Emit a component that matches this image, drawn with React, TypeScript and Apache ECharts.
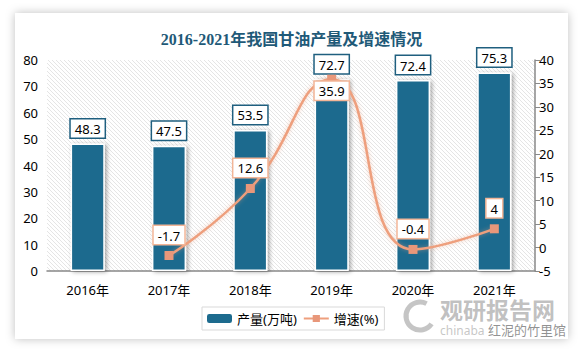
import React, { useEffect, useRef } from "react";
import * as echarts from "echarts";

const years = ["2016年", "2017年", "2018年", "2019年", "2020年", "2021年"];
const output = [48.3, 47.5, 53.5, 72.7, 72.4, 75.3];
const growth: (number | null)[] = [null, -1.7, 12.6, 35.9, -0.4, 4];
const growthLabelPos = ["top", "top", "top", "bottom", "top", "top"];
const titleText = "2016-2021年我国甘油产量及增速情况";

export default function App() {
  const ref = useRef<HTMLDivElement>(null);
  useEffect(() => {
    document.body.style.margin = "0";
    if (!ref.current) return;
    const chart = echarts.init(ref.current, undefined, { renderer: "svg" });

    const pc = document.createElement("canvas");
    pc.width = 4;
    pc.height = 4;
    const ctx = pc.getContext("2d");
    if (ctx) {
      ctx.fillStyle = "#ffffff";
      ctx.fillRect(0, 0, 4, 4);
      ctx.strokeStyle = "#dedede";
      ctx.lineWidth = 0.8;
      ctx.beginPath();
      ctx.moveTo(-1, -1);
      ctx.lineTo(5, 5);
      ctx.moveTo(-1, 3);
      ctx.lineTo(1, 5);
      ctx.moveTo(3, -1);
      ctx.lineTo(5, 1);
      ctx.stroke();
    }

    const font = "'Noto Sans', 'Noto Sans CJK SC', sans-serif";
    const barColor = "#1d6b8e";
    const lineColor = "#ee9f7d";

    chart.setOption({
      animation: false,
      backgroundColor: "#ffffff",
      textStyle: { fontFamily: font },
      title: {
        text: titleText,
        left: "center",
        top: 26,
        textStyle: {
          fontSize: 16,
          fontWeight: "bold",
          color: "#1f5a78",
          fontFamily: "'Liberation Serif', 'Noto Sans CJK SC', serif",
        },
      },
      graphic: [
        {
          type: "rect",
          z: -10,
          shape: { x: 15, y: 13, width: 553, height: 326 },
          style: {
            fill: "#ffffff",
            shadowBlur: 10,
            shadowColor: "rgba(0,0,0,0.25)",
          },
        },
        {
          type: "arc",
          z: 50,
          shape: { cx: 420, cy: 316, r: 14, startAngle: 0.6, endAngle: 5.2 },
          style: { stroke: "rgba(150,150,150,0.55)", lineWidth: 5, fill: "none" },
        },
        {
          type: "text",
          z: 50,
          x: 440,
          y: 297,
          style: {
            text: "观研报告网",
            fontSize: 23,
            fontWeight: "bold",
            fill: "rgba(140,140,140,0.55)",
            fontFamily: "'Noto Sans CJK SC', sans-serif",
          },
        },
        {
          type: "text",
          z: 50,
          x: 440,
          y: 324,
          style: {
            text: "chinaba",
            fontSize: 12,
            fill: "rgba(150,150,150,0.55)",
            fontFamily: font,
          },
        },
        {
          type: "text",
          z: 51,
          x: 488,
          y: 323,
          style: {
            text: "红泥的竹里馆",
            fontSize: 13,
            fill: "rgba(110,110,110,0.75)",
            fontFamily: "'Noto Sans CJK SC', sans-serif",
          },
        },
      ],
      legend: {
        left: 202,
        top: 307,
        borderColor: "#d9d9d9",
        borderWidth: 1,
        padding: [5, 6, 5, 5],
        itemGap: 6,
        itemHeight: 9,
        textStyle: { fontSize: 13, color: "#000", fontFamily: font },
        data: [
          { name: "产量(万吨)", itemStyle: { shadowBlur: 0, shadowOffsetX: 0, shadowOffsetY: 0, borderWidth: 0 } },
          { name: "增速(%)" },
        ],
      },
      grid: {
        left: 47,
        right: 48,
        top: 60,
        bottom: 81,
        show: true,
        borderWidth: 0,
        backgroundColor: { image: pc, repeat: "repeat" } as any,
      },
      xAxis: {
        type: "category",
        data: years,
        axisLine: { lineStyle: { color: "#888", width: 1.5 } },
        axisTick: { show: false },
        axisLabel: { fontSize: 13, color: "#000", margin: 12, fontFamily: font },
      },
      yAxis: [
        {
          type: "value",
          min: 0,
          max: 80,
          interval: 10,
          splitLine: { show: false },
          axisLine: { show: false },
          axisTick: { show: false },
          axisLabel: { fontSize: 13, color: "#000", margin: 9, fontFamily: font },
        },
        {
          type: "value",
          min: -5,
          max: 40,
          interval: 5,
          splitLine: { show: false },
          axisLine: { show: true, lineStyle: { color: "#888", width: 1.5 } },
          axisTick: { show: true, length: 5, lineStyle: { color: "#888" } },
          axisLabel: { fontSize: 13, color: "#000", margin: 4, fontFamily: font },
        },
      ],
      series: [
        {
          name: "产量(万吨)",
          type: "bar",
          data: output,
          barWidth: "42%",
          itemStyle: {
            color: barColor,
            borderColor: "#ffffff",
            borderWidth: 1.5,
            shadowBlur: 4,
            shadowOffsetX: 2,
            shadowOffsetY: 1,
            shadowColor: "rgba(0,0,0,0.35)",
          },
          label: {
            show: true,
            position: "top",
            distance: 6,
            color: "#000",
            fontSize: 13,
            fontFamily: font,
            backgroundColor: "#fff",
            borderColor: "#1f5f7f",
            borderWidth: 1.5,
            padding: [3, 4, 2, 4],
          },
        },
        {
          name: "增速(%)",
          type: "line",
          yAxisIndex: 1,
          smooth: true,
          connectNulls: false,
          data: growth.map((v, i) => ({
            value: v,
            label: { position: growthLabelPos[i] as any, distance: growthLabelPos[i] === "bottom" ? -2 : 7 },
          })),
          symbol: "rect",
          symbolSize: 9,
          lineStyle: {
            color: lineColor,
            width: 2.5,
            shadowBlur: 4,
            shadowColor: "rgba(238,159,125,0.5)",
          },
          itemStyle: { color: "#e8977a" },
          label: {
            show: true,
            color: "#000",
            fontSize: 13,
            fontFamily: font,
            backgroundColor: "#fff",
            borderColor: "#f2b597",
            borderWidth: 1.5,
            padding: [3, 4, 2, 4],
          },
          z: 5,
        },
      ],
    });
    return () => chart.dispose();
  }, []);
  return <div ref={ref} style={{ width: 583, height: 352 }} />;
}
